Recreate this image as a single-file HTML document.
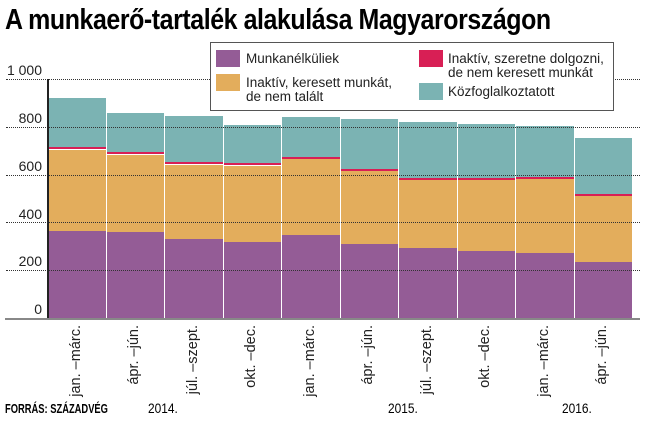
<!DOCTYPE html><html><head><meta charset="utf-8"><style>
body{margin:0;width:650px;height:432px;background:#fff;position:relative;overflow:hidden;font-family:"Liberation Sans",sans-serif;}
.a{position:absolute}
.g{position:absolute;left:6px;width:634px;border-top:1.5px dotted #333;height:0}
.yl{position:absolute;left:0;width:42px;text-align:right;font-size:14px;color:#222}
.xl{position:absolute;font-size:14.5px;color:#222;transform-origin:0 0;transform:rotate(-90deg);white-space:nowrap;text-align:right;width:80px}
.lg{position:absolute;width:24px;height:17px}
.lt{position:absolute;font-size:13.5px;color:#222;line-height:14px}
</style></head><body>
<div class="a" style="left:5px;top:4px;font-size:29px;font-weight:bold;transform-origin:0 0;transform:scaleX(0.86);white-space:nowrap;letter-spacing:-0.5px">A munkaerő-tartalék alakulása Magyarországon</div>
<div id="bars"></div>
<div class="g" style="top:79px"></div><div class="g" style="top:127px"></div><div class="g" style="top:175px"></div><div class="g" style="top:222px"></div><div class="g" style="top:270px"></div>
<div class="yl" style="top:62px">1 000</div><div class="yl" style="top:110px">800</div><div class="yl" style="top:158px">600</div><div class="yl" style="top:206px">400</div><div class="yl" style="top:253px">200</div><div class="yl" style="top:301px">0</div>
<div class="a" style="left:47px;top:79px;width:1.5px;height:240px;background:#222"></div>
<div class="a" style="left:5px;top:318px;width:635px;height:2px;background:#888"></div>
<div class="a" style="left:210px;top:42px;width:402px;height:67px;border:1.5px solid #555;background:#fff"></div>
<div class="lg" style="left:216px;top:50px;background:#945c96"></div><div class="lt" style="left:246px;top:52px">Munkanélküliek</div>
<div class="lg" style="left:216px;top:74px;background:#e3ad5c"></div><div class="lt" style="left:246px;top:76px">Inaktív, keresett munkát,<br>de nem talált</div>
<div class="lg" style="left:419px;top:50px;background:#d81f55"></div><div class="lt" style="left:448px;top:52px">Inaktív, szeretne dolgozni,<br>de nem keresett munkát</div>
<div class="lg" style="left:419px;top:83px;background:#7bb3b3"></div><div class="lt" style="left:448px;top:85px">Közfoglalkoztatott</div>
<div class="a" style="left:5px;top:401px;font-size:13px;font-weight:bold;transform-origin:0 0;transform:scaleX(0.72);white-space:nowrap">FORRÁS: SZÁZADVÉG</div>
<div class="a" style="left:148px;top:400px;font-size:14px;transform-origin:0 0;transform:scaleX(0.85)">2014.</div>
<div class="a" style="left:388px;top:400px;font-size:14px;transform-origin:0 0;transform:scaleX(0.85)">2015.</div>
<div class="a" style="left:562px;top:400px;font-size:14px;transform-origin:0 0;transform:scaleX(0.85)">2016.</div>
<script>
var d=[[98.3,147.3,231.3],[113.3,152.3,232.3],[116.3,162.3,239.3],[124.7,163.3,242.3],[117.3,157,235.3],[119.3,169,244.3],[122,178,248.3],[124.3,178,251.3],[126.3,177,253.3],[138.3,194,262.3]];
var L=["jan. –márc.","ápr. –jún.","júl. –szept.","okt. –dec.","jan. –márc.","ápr. –jún.","júl. –szept.","okt. –dec.","jan. –márc.","ápr. –jún."];
var h="";
for(var i=0;i<10;i++){var x=48+i*58.5,w=57.5,b=d[i];
h+='<div class="a" style="left:'+x+'px;top:'+b[0]+'px;width:'+w+'px;height:'+(b[1]-b[0])+'px;background:#7bb3b3"></div>';
h+='<div class="a" style="left:'+x+'px;top:'+b[1]+'px;width:'+w+'px;height:2.2px;background:#d81f55"></div>';
h+='<div class="a" style="left:'+x+'px;top:'+(b[1]+2.2)+'px;width:'+w+'px;height:'+(b[2]-b[1]-2.2)+'px;background:#e3ad5c"></div>';
h+='<div class="a" style="left:'+x+'px;top:'+b[2]+'px;width:'+w+'px;height:'+(318-b[2])+'px;background:#945c96"></div>';
h+='<div class="xl" style="left:'+(x+w/2-9)+'px;top:405px">'+L[i]+'</div>';}
document.getElementById("bars").innerHTML=h;
</script>
</body></html>
